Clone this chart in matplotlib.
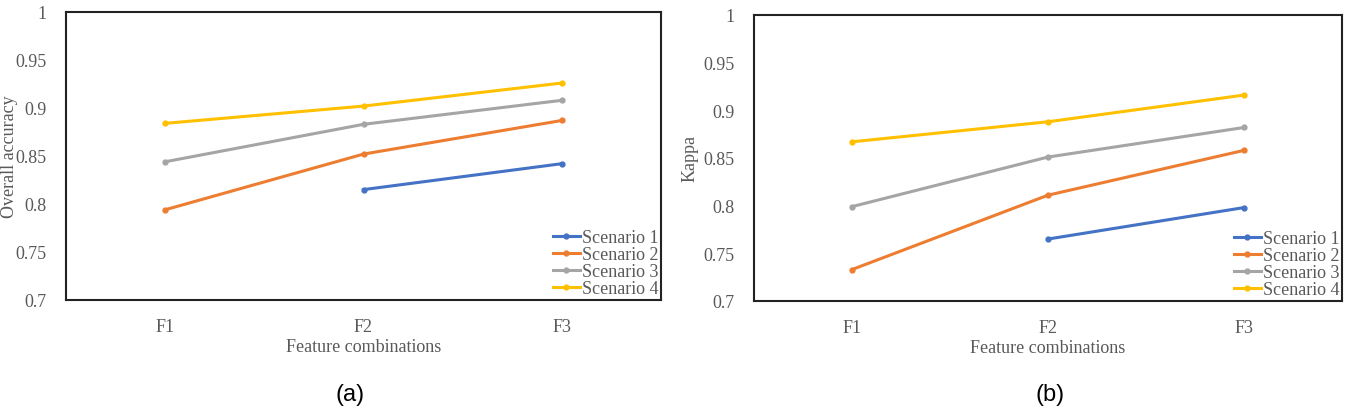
import matplotlib.pyplot as plt

features = ["F1", "F2", "F3"]
scenarios = ["Scenario 1", "Scenario 2", "Scenario 3", "Scenario 4"]
colors = ["#4472C4", "#ED7D31", "#A5A5A5", "#FFC000"]

# Overall accuracy (None = no value for that combination)
oa_s1 = [None, 0.815, 0.842]
oa_s2 = [0.794, 0.852, 0.887]
oa_s3 = [0.844, 0.883, 0.908]
oa_s4 = [0.884, 0.902, 0.926]

# Kappa
kp_s1 = [None, 0.765, 0.798]
kp_s2 = [0.733, 0.811, 0.858]
kp_s3 = [0.799, 0.851, 0.882]
kp_s4 = [0.867, 0.888, 0.916]

yticks = [0.7, 0.75, 0.8, 0.85, 0.9, 0.95, 1]
ytick_labels = ["0.7", "0.75", "0.8", "0.85", "0.9", "0.95", "1"]

plt.rcParams['font.family'] = ['Liberation Serif', 'DejaVu Serif']
grey = "#595959"
fs = 13

fig = plt.figure(figsize=(13.51, 4.14), dpi=100)
W, H = 1351, 414


def panel(rect, series, ylabel, tag, tag_x, ylab_x):
    l, t, r, b = rect
    ax = fig.add_axes([l / W, 1 - b / H, (r - l) / W, (b - t) / H])
    xs = range(len(features))
    for name, vals, c in zip(scenarios, series, colors):
        pts = [(x, v) for x, v in zip(xs, vals) if v is not None]
        ax.plot([p[0] for p in pts], [p[1] for p in pts], color=c, lw=2.2,
                marker="o", ms=3.5, label=name)
    ax.set_xlim(-0.5, len(features) - 0.5)
    ax.set_ylim(0.7, 1.0)
    ax.set_xticks(list(xs))
    ax.set_xticklabels(features)
    ax.set_yticks(yticks)
    ax.set_yticklabels(ytick_labels)
    ax.tick_params(length=0, labelsize=fs, colors=grey)
    ax.tick_params(axis="y", pad=14)
    ax.tick_params(axis="x", pad=13)
    ax.set_xlabel("Feature combinations", fontsize=fs, color=grey, labelpad=2)
    ax.set_ylabel(ylabel, fontsize=fs, color=grey, va="center")
    ax.yaxis.set_label_coords((ylab_x - l) / (r - l), 0.5)
    for s in ax.spines.values():
        s.set_linewidth(1.5)
        s.set_color("#222222")
    leg = ax.legend(loc="lower right", frameon=False, fontsize=fs,
                    handlelength=1.5, handletextpad=0.1, labelspacing=0.0,
                    borderaxespad=0.05, borderpad=0.1)
    for txt in leg.get_texts():
        txt.set_color(grey)
    fig.text(tag_x / W, 1 - 395 / H, tag, ha="center", va="center",
             fontsize=17, family="Liberation Sans")
    return ax


panel((66, 13, 661, 301), [oa_s1, oa_s2, oa_s3, oa_s4], "Overall accuracy", "(a)", 350, 10)
panel((754, 16, 1342, 302), [kp_s1, kp_s2, kp_s3, kp_s4], "Kappa", "(b)", 1050, 690)

fig.savefig("out.png", dpi=100)
